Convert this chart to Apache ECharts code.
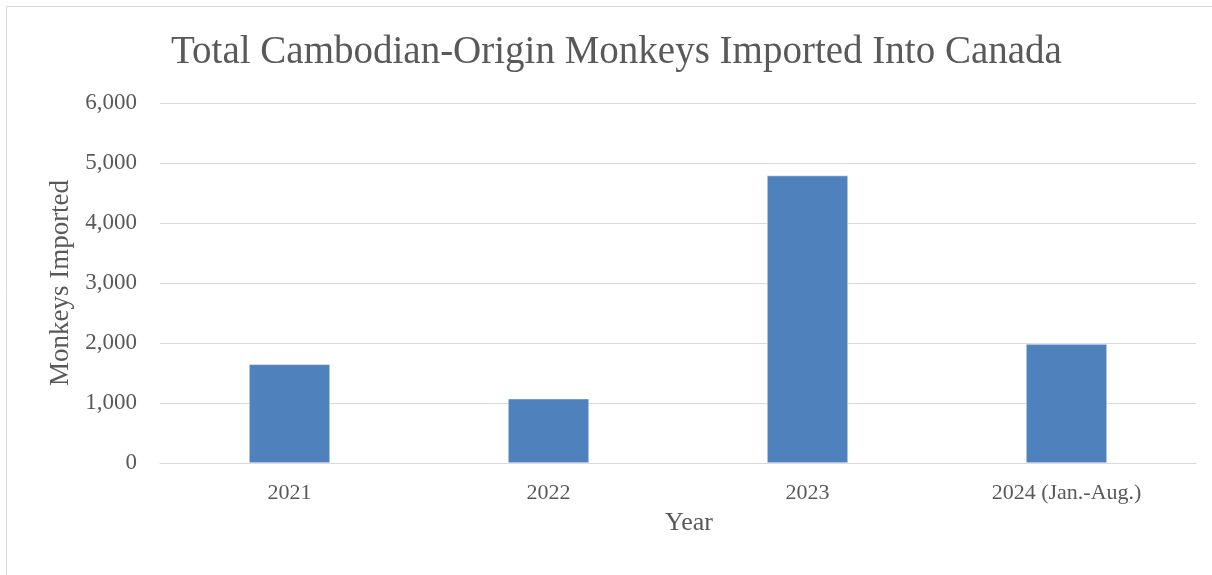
<!DOCTYPE html>
<html><head><meta charset="utf-8">
<script src="https://cdn.jsdelivr.net/npm/echarts@6/dist/echarts.min.js"></script>
<style>html,body{margin:0;padding:0;background:#fff}#c{width:1212px;height:575px}</style>
</head><body><div id="c"></div>
<script>
var categories = ['2021', '2022', '2023', '2024 (Jan.-Aug.)'];
var monkeysImported = [1645, 1072, 4790, 1983];
var yTicks = [0, 1000, 2000, 3000, 4000, 5000, 6000];

var FONT = '"Liberation Serif", "DejaVu Serif", serif';
var chart = echarts.init(document.getElementById('c'));
chart.setOption({
  animation: false,
  backgroundColor: '#fff',
  graphic: [{
    type: 'rect', left: 4, top: 4,
    shape: {width: 1400, height: 800},
    style: {fill: 'none', stroke: '#d9d9d9', lineWidth: 1}, silent: true
  }],
  title: {
    text: 'Total Cambodian-Origin Monkeys Imported Into Canada',
    left: 166, top: 28,
    textStyle: {fontFamily: FONT, fontSize: 39, fontWeight: 'normal', color: '#595959'}
  },
  grid: {left: 160, right: 16, top: 103, bottom: 112},
  xAxis: {
    type: 'category', data: categories,
    name: 'Year', nameLocation: 'middle', nameGap: 47,
    nameTextStyle: {fontFamily: FONT, fontSize: 26, color: '#595959', padding: [0, 0, 0, 22]},
    axisLine: {show: true, lineStyle: {color: '#d9d9d9', width: 1}},
    axisTick: {show: false},
    axisLabel: {fontFamily: FONT, fontSize: 22, color: '#595959', margin: 19}
  },
  yAxis: {
    type: 'value', min: yTicks[0], max: yTicks[yTicks.length - 1], interval: 1000,
    name: 'Monkeys Imported', nameLocation: 'middle', nameGap: 86, nameRotate: 90,
    nameTextStyle: {fontFamily: FONT, fontSize: 27, color: '#595959'},
    axisLine: {show: false}, axisTick: {show: false},
    axisLabel: {fontFamily: FONT, fontSize: 23, color: '#595959', margin: 23,
      formatter: function (v) { return v.toLocaleString('en-US'); }},
    splitLine: {lineStyle: {color: '#d9d9d9', width: 1}}
  },
  series: [{
    type: 'bar', data: monkeysImported, barWidth: 81,
    itemStyle: {color: '#4f81bd', borderColor: '#ffffff', borderWidth: 0.5}
  }]
});
</script></body></html>
